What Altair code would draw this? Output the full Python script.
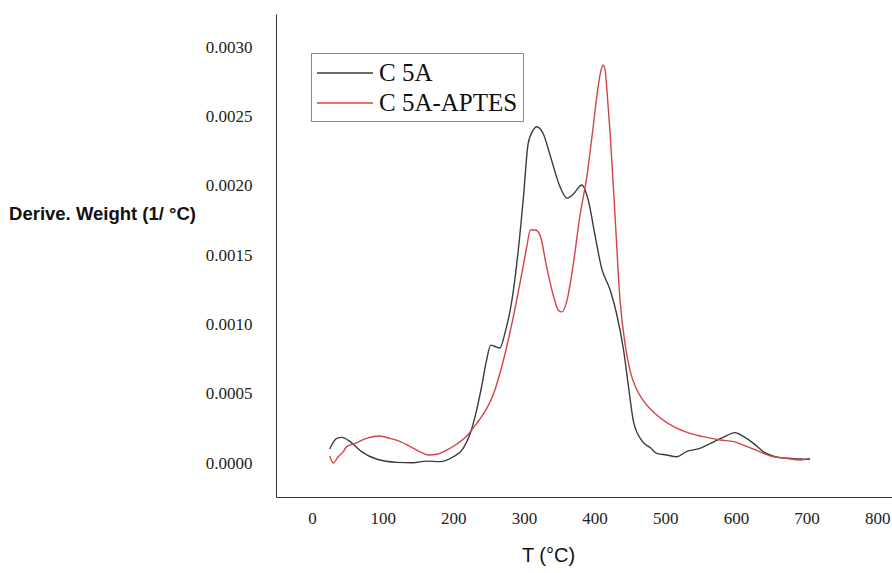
import altair as alt
import pandas as pd

series_names = ["C 5A", "C 5A-APTES"]
series_colors = ["#3c3c3c", "#d3434b"]

c5a_temp = [25, 35, 42, 54, 70, 92, 120, 143, 162, 181, 200, 214, 224, 233, 240, 247, 253, 259,
            266, 273, 283, 292, 299, 306, 313, 318, 327, 337, 351, 361, 370, 382, 391, 401, 410,
            422, 431, 441, 448, 455, 467, 479, 488, 502, 516, 530, 549, 564, 582, 599, 611, 625,
            639, 653, 672, 691, 705]
c5a_dw = [0.000101, 0.000178, 0.000185, 0.000154, 0.000082, 0.000027, 0.000005, 0.000002,
          0.000014, 0.00001, 0.000045, 0.000106, 0.000214, 0.000382, 0.00055, 0.00074, 0.00085,
          0.00084, 0.00083, 0.000935, 0.001175, 0.001536, 0.0019, 0.002305, 0.0024, 0.002425,
          0.002378, 0.00222, 0.001993, 0.00191, 0.00194, 0.002005, 0.001897, 0.00163, 0.001404,
          0.001248, 0.00108, 0.000815, 0.00055, 0.0003, 0.00016, 0.00011, 0.00007, 0.000058,
          0.000045, 0.000082, 0.000106, 0.000142, 0.000185, 0.000219, 0.00019, 0.000142,
          0.000081, 0.00005, 0.000034, 0.000029, 0.000027]

aptes_temp = [25, 30, 37, 44, 49, 61, 77, 96, 110, 125, 139, 153, 165, 177, 191, 205, 219, 233,
              247, 257, 271, 285, 297, 304, 309, 316, 323, 332, 342, 349, 354, 361, 370, 379, 389,
              398, 405, 409, 412, 415, 418, 422, 429, 436, 443, 450, 460, 469, 488, 512, 535, 559,
              578, 597, 616, 634, 653, 672, 691, 705]
aptes_dw = [0.00005, 0.0, 0.000045, 0.00008, 0.000118, 0.000142, 0.000178, 0.000195, 0.000178,
            0.000154, 0.000118, 0.00008, 0.000058, 0.000063, 0.000094, 0.000137, 0.000195,
            0.000286, 0.00039, 0.0005, 0.000743, 0.001055, 0.001368, 0.00156, 0.00168, 0.00168,
            0.00164, 0.001416, 0.0012, 0.0011, 0.00109, 0.001175, 0.00144, 0.001776, 0.002065,
            0.002425, 0.002714, 0.00283, 0.00287, 0.00283, 0.00265, 0.002378, 0.001776,
            0.001175, 0.000863, 0.00067, 0.000526, 0.00045, 0.000346, 0.000262, 0.000214,
            0.000185, 0.000166, 0.000154, 0.000118, 0.000081, 0.000045, 0.000034, 0.000022,
            0.000034]

x_ticks = [0, 100, 200, 300, 400, 500, 600, 700, 800]
y_ticks = [0.0, 0.0005, 0.0010, 0.0015, 0.0020, 0.0025, 0.0030]

df = pd.concat([
    pd.DataFrame({"T": c5a_temp, "DW": c5a_dw, "series": series_names[0]}),
    pd.DataFrame({"T": aptes_temp, "DW": aptes_dw, "series": series_names[1]}),
], ignore_index=True)

chart = alt.Chart(df).mark_line(strokeWidth=1.4, interpolate="monotone").encode(
    x=alt.X("T:Q",
            scale=alt.Scale(domain=[-51, 821], nice=False, zero=False),
            axis=alt.Axis(values=x_ticks, format="d", title="T  (°C)",
                          labelFont="Liberation Serif", labelFontSize=17, labelColor="#222",
                          labelPadding=13, ticks=False, grid=False,
                          domainColor="#333", domainWidth=1,
                          titleFont="Liberation Sans", titleFontSize=20, titleFontWeight="normal",
                          titleColor="#111", titleX=272, titleY=58, titleAlign="center",
                          titleBaseline="middle")),
    y=alt.Y("DW:Q",
            scale=alt.Scale(domain=[-0.000245, 0.003238], nice=False, zero=False),
            axis=alt.Axis(values=y_ticks, format=".4f", title="Derive. Weight (1/ °C)",
                          labelFont="Liberation Serif", labelFontSize=17, labelColor="#222",
                          labelPadding=24, ticks=False, grid=False,
                          domainColor="#333", domainWidth=1,
                          titleFont="Liberation Sans", titleFontSize=18.5, titleFontWeight="bold",
                          titleColor="#111", titleAngle=0, titleX=-174, titleY=199,
                          titleAlign="center", titleBaseline="middle")),
    color=alt.Color("series:N",
                    scale=alt.Scale(domain=series_names, range=series_colors),
                    legend=alt.Legend(orient="none", legendX=35, legendY=39, title=None,
                                      symbolType="M-2,0H2", symbolSize=784,
                                      symbolStrokeWidth=1.5, symbolOffset=14,
                                      labelFont="Liberation Serif", labelFontSize=25,
                                      labelColor="#111", labelOffset=19,
                                      strokeColor="#888", fillColor="white",
                                      padding=5, rowPadding=2)),
).properties(
    width=616,
    height=483,
    autosize=alt.AutoSizeParams(type="none"),
    padding={"left": 276, "top": 14, "right": 0, "bottom": 76},
    background="white",
).configure_view(stroke=None)

chart.save("out.html", embed_options={"renderer": "svg", "actions": False})
